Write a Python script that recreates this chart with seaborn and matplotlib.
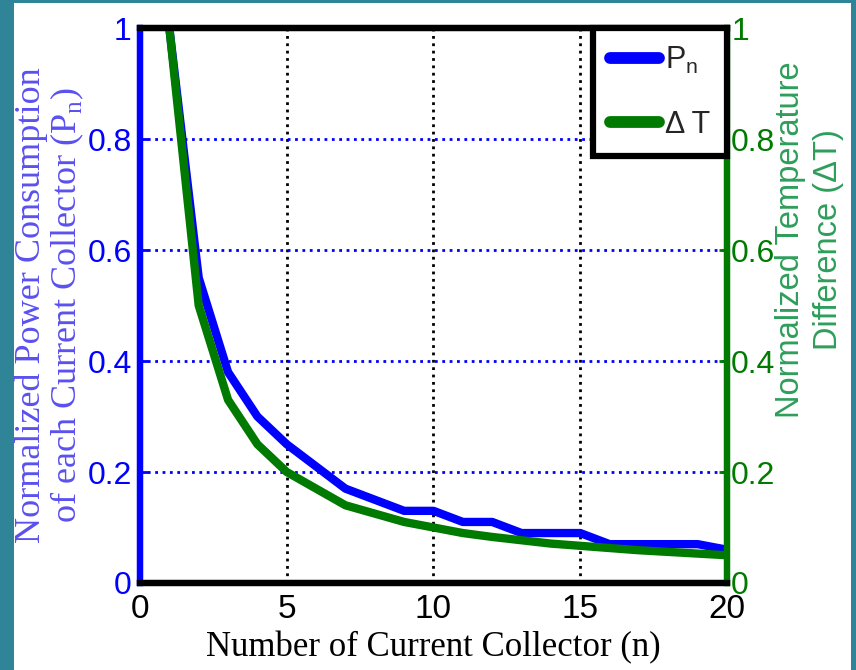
import matplotlib
matplotlib.use('Agg')
import matplotlib.pyplot as plt
import seaborn as sns
import numpy as np
import pandas as pd
from matplotlib.patches import Rectangle

# values
n_collectors = list(range(1, 21))
p_n = [1.0, 0.55, 0.38, 0.30, 0.25, 0.21, 0.17, 0.15, 0.13, 0.13,
       0.11, 0.11, 0.09, 0.09, 0.09, 0.07, 0.07, 0.07, 0.07, 0.06]
delta_t = [1.0, 0.5, 0.33, 0.25, 0.2, 0.17, 0.14, 0.125, 0.11, 0.1,
           0.09, 0.083, 0.077, 0.071, 0.067, 0.063, 0.059, 0.056, 0.053, 0.05]
x_ticks = [0, 5, 10, 15, 20]
y_ticks = [0, 0.2, 0.4, 0.6, 0.8, 1]
y_tick_labels = ['0', '0.2', '0.4', '0.6', '0.8', '1']

data = pd.DataFrame({'n': n_collectors, 'Pn': p_n, 'dT': delta_t})

sns.set_style('white')
plt.rcParams['font.family'] = ['Liberation Sans', 'DejaVu Sans']
plt.rcParams['mathtext.fontset'] = 'custom'
plt.rcParams['mathtext.rm'] = 'Liberation Serif'
plt.rcParams['mathtext.sf'] = 'Liberation Sans'

blue = '#0000ff'
green = '#007a00'
serif = ['Liberation Serif', 'DejaVu Serif']

fig = plt.figure(figsize=(8.56, 6.70), dpi=100, facecolor='#2f8497')
# white panel inside the teal frame
fig.patches.append(Rectangle((14 / 856, 0), (851 - 14) / 856, (670 - 3) / 670,
                             transform=fig.transFigure, facecolor='white',
                             edgecolor='none', zorder=-10))
ax = fig.add_axes([140 / 856, 1 - 583 / 670, (727 - 140) / 856, (583 - 28) / 670])
ax.set_facecolor('white')
ax2 = ax.twinx()

sns.lineplot(data=data, x='n', y='Pn', ax=ax, color=blue, linewidth=6, label='P$_\\mathsf{n}$', legend=False)
sns.lineplot(data=data, x='n', y='dT', ax=ax2, color=green, linewidth=6, label='\u0394 T', legend=False)

for a in (ax, ax2):
    a.set_xlim(0, 20)
    a.set_ylim(0, 1)
    a.set_yticks(y_ticks)

ax.set_xticks(x_ticks)
ax.set_yticklabels(y_tick_labels)
ax2.set_yticklabels(y_tick_labels)

# grid: blue dotted horizontals, black dotted verticals
ax.yaxis.grid(True, color=blue, linestyle=':', linewidth=2)
ax.xaxis.grid(True, color='black', linestyle=':', linewidth=2)
ax2.grid(False)
ax.set_axisbelow(True)

for a in (ax, ax2):
    for s in a.spines.values():
        s.set_linewidth(4.5)
    a.spines['top'].set_color('black')
    a.spines['bottom'].set_color('black')
ax.spines['left'].set_color(blue)
ax2.spines['left'].set_color(blue)
ax.spines['right'].set_color(green)
ax2.spines['right'].set_color(green)

ax.tick_params(axis='x', direction='in', length=6, width=2, colors='black', labelsize=24, pad=8)
ax.tick_params(axis='y', direction='in', length=6, width=2, colors=blue, labelsize=23, pad=6)
ax2.tick_params(axis='y', direction='in', length=6, width=2, colors=green, labelsize=23, pad=3)

ax.set_xlabel('Number of Current Collector (n)', fontsize=25, family=serif, color='black')
ax.xaxis.label.set_va('center')
ax.xaxis.set_label_coords(0.5, -0.117)

ax.set_ylabel('Normalized Power Consumption\nof each Current Collector (P$_\\mathrm{n}$)',
              fontsize=26, family=serif, color='#5a50f0', linespacing=1.02)
ax.yaxis.label.set_ha('center')
ax.yaxis.label.set_va('center')
ax.yaxis.set_label_coords(-0.153, 0.5)

ax2.set_ylabel('Normalized Temperature\nDifference (\u0394T)', fontsize=23.5,
               color='#2e9e5b', linespacing=1.3, rotation=90)
ax2.yaxis.label.set_ha('center')
ax2.yaxis.label.set_va('center')
ax2.yaxis.set_label_coords(1.14, 0.618)

handles = [ax.get_lines()[0], ax2.get_lines()[0]]
leg = ax2.legend(handles, [h.get_label() for h in handles], loc='upper right',
                 bbox_to_anchor=(1, 1), borderaxespad=0, fancybox=False, framealpha=1,
                 edgecolor='black', handlelength=1.6, handletextpad=0.2,
                 borderpad=0.55, labelspacing=1.1, prop={'size': 22})
leg.get_frame().set_linewidth(4.5)
for line in leg.get_lines():
    line.set_linewidth(8.5)

fig.savefig('out.png', dpi=100, facecolor=fig.get_facecolor())
